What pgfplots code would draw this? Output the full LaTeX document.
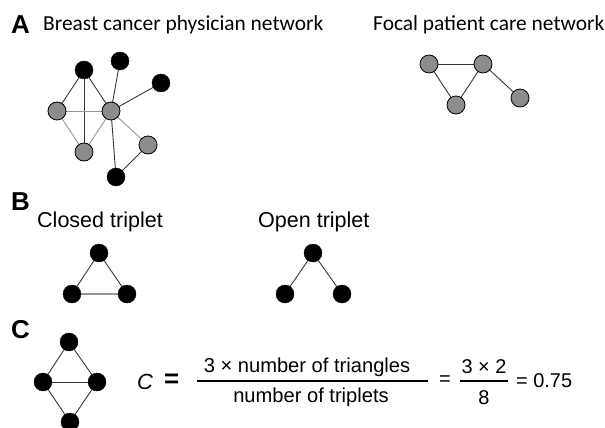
\documentclass[border=0pt]{standalone}
\usepackage{pgfplots}
\pgfplotsset{compat=1.18}
\usepackage{fontspec}
\setmainfont{Liberation Sans}
\newfontfamily\calfont{Carlito}
\definecolor{nodegray}{RGB}{140,140,140}
\definecolor{edgedark}{RGB}{55,55,55}
\definecolor{edgelight}{RGB}{150,150,150}
\begin{document}
\begin{tikzpicture}
\begin{axis}[name=ax,
  hide axis, scale only axis, width=605bp, height=428bp,
  xmin=0, xmax=605, ymin=0, ymax=428, y dir=reverse, clip=false,
  every axis plot/.append style={line cap=round},
]
% ---------- edges, panel A left
\addplot[edgedark, line width=0.9bp] coordinates {(84,70) (57,111)};
\addplot[edgedark, line width=0.9bp] coordinates {(84,70) (111,111)};
\addplot[edgedark, line width=0.9bp] coordinates {(84,70) (84,152)};
\addplot[edgelight, line width=0.9bp] coordinates {(57,111) (111,111)};
\addplot[edgelight, line width=0.9bp] coordinates {(57,111) (84,152)};
\addplot[edgelight, line width=0.9bp] coordinates {(111,111) (84,152)};
\addplot[edgedark, line width=0.9bp] coordinates {(111,111) (120,61)};
\addplot[edgedark, line width=0.9bp] coordinates {(111,111) (161,83)};
\addplot[edgelight, line width=0.9bp] coordinates {(111,111) (148,145)};
\addplot[edgedark, line width=0.9bp] coordinates {(111,111) (116,177)};
\addplot[edgedark, line width=0.9bp] coordinates {(148,145) (116,177)};
% ---------- edges, panel A right
\addplot[edgedark, line width=0.9bp] coordinates {(429,64) (483,64)};
\addplot[edgedark, line width=0.9bp] coordinates {(429,64) (456,105)};
\addplot[edgedark, line width=0.9bp] coordinates {(483,64) (456,105)};
\addplot[edgedark, line width=0.9bp] coordinates {(483,64) (520,98)};
% ---------- edges, panel B
\addplot[edgedark, line width=0.9bp] coordinates {(99,253) (72,294)};
\addplot[edgedark, line width=0.9bp] coordinates {(99,253) (127,294)};
\addplot[edgelight, line width=1.2bp] coordinates {(72,294) (127,294)};
\addplot[edgedark, line width=0.9bp] coordinates {(313,253) (285,294)};
\addplot[edgedark, line width=0.9bp] coordinates {(313,253) (342,294)};
% ---------- edges, panel C
\addplot[edgedark, line width=0.9bp] coordinates {(69,342) (43,382)};
\addplot[edgedark, line width=0.9bp] coordinates {(69,342) (97,382)};
\addplot[edgedark, line width=0.9bp] coordinates {(43,382) (97,382)};
\addplot[edgedark, line width=0.9bp] coordinates {(43,382) (70,422)};
\addplot[edgedark, line width=0.9bp] coordinates {(97,382) (70,422)};
% fraction bars
\addplot[black, line width=1.7bp, line cap=butt] coordinates {(197,381) (428,381)};
\addplot[black, line width=1.7bp, line cap=butt] coordinates {(460,381) (508,381)};
% ---------- nodes
\addplot[only marks, mark=*, mark size=9bp, mark options={fill=black, draw=black}] coordinates {
 (84,70) (120,61) (161,83) (116,177)
 (99,253) (72,294) (127,294) (313,253) (285,294) (342,294)
 (69,342) (43,382) (97,382) (70,422)};
\addplot[only marks, mark=*, mark size=9bp, mark options={fill=nodegray, draw=black, line width=0.8bp}] coordinates {
 (57,111) (111,111) (84,152) (148,145)
 (429,64) (483,64) (456,105) (520,98)};
% ---------- text
\node[anchor=west, inner sep=0pt, font=\fontsize{26}{30}\selectfont\bfseries] at (axis cs:11,25) {A};
\node[anchor=west, inner sep=0pt, font=\fontsize{21.5}{26}\selectfont\calfont] at (axis cs:43,25) {Breast cancer physician network};
\node[anchor=west, inner sep=0pt, font=\fontsize{21.5}{26}\selectfont\calfont] at (axis cs:373,25) {Focal patient care network};
\node[anchor=west, inner sep=0pt, font=\fontsize{26}{30}\selectfont\bfseries] at (axis cs:11,202) {B};
\node[anchor=west, inner sep=0pt, font=\fontsize{21.6}{25}\selectfont] at (axis cs:37,222) {Closed triplet};
\node[anchor=west, inner sep=0pt, font=\fontsize{21.6}{25}\selectfont] at (axis cs:258,222) {Open triplet};
\node[anchor=west, inner sep=0pt, font=\fontsize{26}{30}\selectfont\bfseries] at (axis cs:11,330) {C};
\node[anchor=west, inner sep=0pt, font=\fontsize{22}{26}\selectfont\itshape] at (axis cs:137,382) {C};
\node[anchor=west, inner sep=0pt, font=\fontsize{26}{30}\selectfont\bfseries] at (axis cs:164,381) {=};
\node[anchor=center, inner sep=0pt, font=\fontsize{20.2}{24}\selectfont] at (axis cs:307,367) {3 × number of triangles};
\node[anchor=center, inner sep=0pt, font=\fontsize{20.2}{24}\selectfont] at (axis cs:311,397) {number of triplets};
\node[anchor=center, inner sep=0pt, font=\fontsize{20}{24}\selectfont] at (axis cs:445,381) {=};
\node[anchor=center, inner sep=0pt, font=\fontsize{20}{24}\selectfont] at (axis cs:484,367) {3 × 2};
\node[anchor=center, inner sep=0pt, font=\fontsize{20}{24}\selectfont] at (axis cs:484,398) {8};
\node[anchor=west, inner sep=0pt, font=\fontsize{20}{24}\selectfont] at (axis cs:516,381) {= 0.75};
\end{axis}
\pgfresetboundingbox
\path[use as bounding box] (ax.south west) rectangle (ax.north east);
\end{tikzpicture}
\end{document}
